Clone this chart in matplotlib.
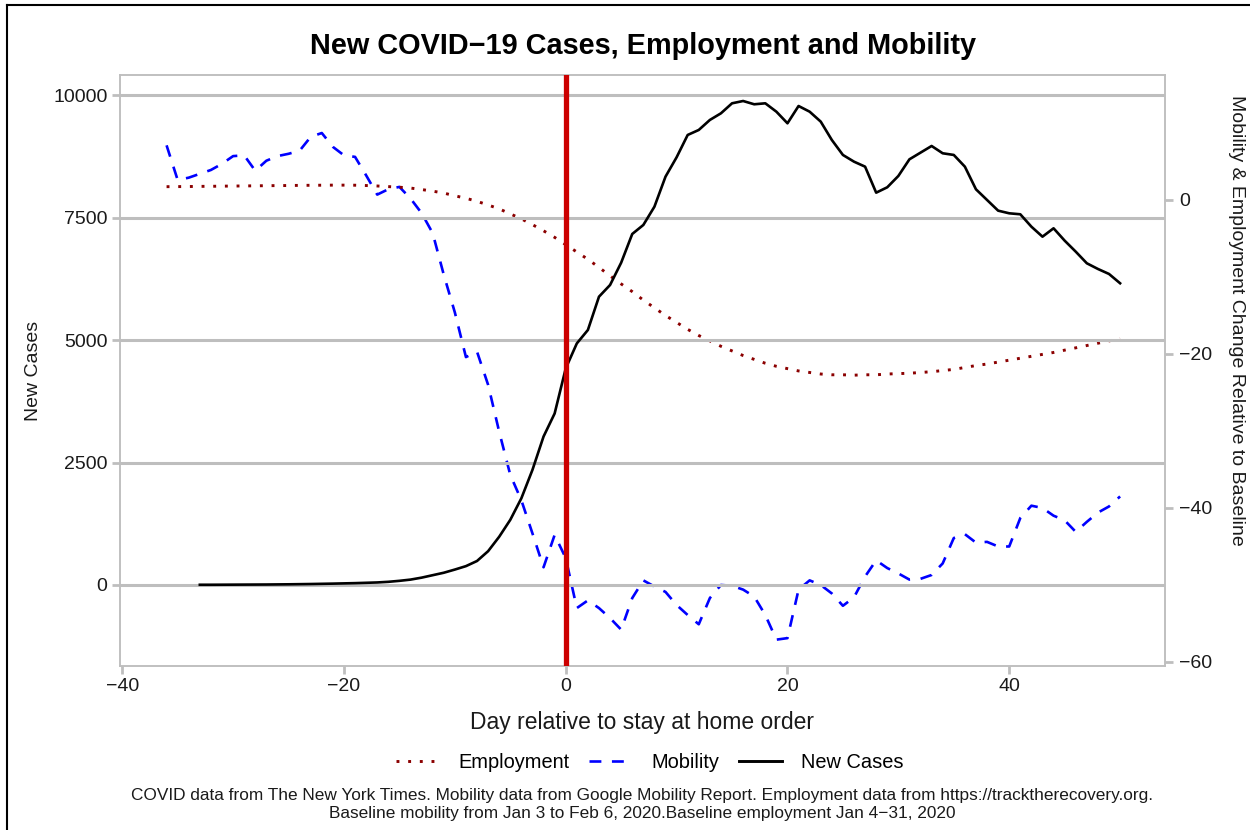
import matplotlib
matplotlib.use('Agg')
import matplotlib.pyplot as plt
from matplotlib.lines import Line2D

plt.rcParams['font.family'] = ['Liberation Sans', 'DejaVu Sans']

# days relative to the stay at home order
days = list(range(-36, 51))

# mobility change vs baseline (%), day -36 .. 50
mobility = [7.1, 2.6, 2.9, 3.4, 3.9, 4.7, 5.7, 5.8, 3.8, 5.1,
            5.7, 6.0, 6.4, 8.2, 8.7, 6.9, 5.8, 5.6, 3.2, 0.7,
            1.4, 1.7, 0.2, -1.7, -4.3, -9.7, -14.6, -20.4, -19.7, -24.0,
            -30.1, -35.7, -39.0, -43.3, -47.7, -43.5, -46.5, -53.0, -52.0, -53.0,
            -54.3, -55.8, -51.7, -49.4, -50.2, -50.9, -52.6, -53.9, -55.1, -51.7,
            -50.0, -50.1, -50.6, -51.5, -53.9, -57.1, -56.9, -50.6, -49.4, -50.0,
            -51.1, -52.7, -51.6, -48.9, -46.8, -47.8, -48.5, -49.3, -49.2, -48.7,
            -47.2, -43.9, -43.4, -44.5, -44.4, -45.0, -45.0, -41.3, -39.7, -40.0,
            -41.0, -41.6, -43.1, -41.8, -40.6, -39.8, -38.5]

# employment change vs baseline (%), day -36 .. 50
employment = [1.73, 1.74, 1.75, 1.77, 1.78, 1.80, 1.81, 1.83, 1.84, 1.86,
              1.87, 1.88, 1.90, 1.91, 1.92, 1.93, 1.93, 1.92, 1.88, 1.82,
              1.74, 1.66, 1.55, 1.36, 1.15, 0.90, 0.55, 0.22, -0.17, -0.65,
              -1.15, -1.80, -2.45, -3.20, -4.00, -4.85, -5.80, -6.75, -7.70, -8.75,
              -9.85, -10.9, -11.9, -13.0, -14.0, -15.0, -15.9, -16.8, -17.6, -18.3,
              -19.0, -19.6, -20.2, -20.7, -21.2, -21.6, -21.9, -22.2, -22.4, -22.6,
              -22.7, -22.7, -22.75, -22.7, -22.7, -22.6, -22.55, -22.5, -22.4, -22.3,
              -22.15, -22.0, -21.75, -21.5, -21.3, -21.05, -20.8, -20.55, -20.3, -20.05,
              -19.8, -19.5, -19.2, -18.9, -18.6, -18.3, -18.0]

# new cases, day -33 .. 50
case_days = list(range(-33, 51))
new_cases = [5, 5, 6, 7, 8, 9, 10, 12, 14, 17,
             20, 24, 28, 33, 38, 45, 52, 65, 85, 110,
             150, 200, 250, 315, 385, 490, 690, 985, 1330, 1770,
             2350, 3030, 3500, 4420, 4930, 5205, 5884, 6123, 6578, 7164,
             7348, 7721, 8334, 8729, 9185, 9287, 9491, 9627, 9831, 9878,
             9811, 9831, 9660, 9423, 9776, 9660, 9457, 9083, 8777, 8640,
             8538, 8007, 8117, 8348, 8688, 8824, 8960, 8811, 8777, 8538,
             8076, 7858, 7640, 7586, 7566, 7313, 7109, 7280, 7028, 6803,
             6566, 6450, 6348, 6158]

case_ticks = [0, 2500, 5000, 7500, 10000]
pct_ticks = [-60, -40, -20, 0]
day_ticks = [-40, -20, 0, 20, 40]

grey = '#BEBEBE'
txt = '#1a1a1a'

fig = plt.figure(figsize=(12.5, 8.3), dpi=100)
ax = fig.add_axes([0.096, 0.1976, 0.836, 0.712])
ax2 = ax.twinx()

ax.set_xlim(-40.2, 54.05)
ax.set_ylim(-1653, 10408)
ax2.set_ylim(-60.52, 16.23)

for y in case_ticks:
    ax.axhline(y, color=grey, lw=2.2, zorder=0)

ax.axvline(0, color='#CC0000', lw=3.8, zorder=5)

ln_cases, = ax.plot(case_days, new_cases, color='black', lw=1.9, zorder=4,
                    solid_joinstyle='round')
ln_mob, = ax2.plot(days, mobility, color='#0000FF', lw=1.9,
                   linestyle=(0, (4.5, 4)), dash_capstyle='butt', zorder=4)
ln_emp, = ax2.plot(days, employment, color='#8B0000', lw=2.1,
                   linestyle=(0, (1, 3)), dash_capstyle='butt', zorder=4)
ax.set_zorder(ax2.get_zorder() + 1)
ax.patch.set_visible(False)

for a in (ax, ax2):
    for s in a.spines.values():
        s.set_color(grey)
        s.set_linewidth(1.1)

ax.set_xticks(day_ticks)
ax.set_xticklabels(['\u221240', '\u221220', '0', '20', '40'])
ax.set_yticks(case_ticks)
ax.set_yticklabels([str(v) for v in case_ticks])
ax2.set_yticks(pct_ticks)
ax2.set_yticklabels(['\u221260', '\u221240', '\u221220', '0'])

ax.tick_params(axis='both', colors=grey, labelcolor=txt, labelsize=14,
               length=6, width=2, pad=3)
ax2.tick_params(axis='y', colors=grey, labelcolor=txt, labelsize=14,
                length=6, width=2, pad=4)

ax.set_xlabel('Day relative to stay at home order', fontsize=16.5, color=txt,
              va='center')
ax.xaxis.set_label_coords(0.5, -0.095)
ax.set_ylabel('New Cases', fontsize=14, color=txt, va='center')
ax.yaxis.set_label_coords(-0.083, 0.5)
ax2.set_ylabel('Mobility & Employment Change Relative to Baseline',
               fontsize=14, color=txt, rotation=270, va='center')
ax2.yaxis.set_label_coords(1.068, 0.585)

fig.text(0.514, 1 - 46 / 830, 'New COVID\u221219 Cases, Employment and Mobility',
         fontsize=20.8, fontweight='bold', ha='center', va='center')

handles = [Line2D([], [], color='#8B0000', lw=2.1, linestyle=(0, (1, 3))),
           Line2D([], [], color='#0000FF', lw=1.9, linestyle=(0, (4.5, 4))),
           Line2D([], [], color='black', lw=2.1)]
fig.legend(handles, ['Employment', 'Mobility', 'New Cases'], ncol=3,
           loc='center', bbox_to_anchor=(0.52, 1 - 762 / 830), frameon=False,
           fontsize=14.4, handlelength=2.15, handletextpad=0.95,
           columnspacing=1.0)

fig.text(0.5136, 1 - 804.5 / 830,
         'COVID data from The New York Times. Mobility data from Google Mobility Report. '
         'Employment data from https://tracktherecovery.org.\n'
         'Baseline mobility from Jan 3 to Feb 6, 2020.Baseline employment Jan 4\u221231, 2020',
         fontsize=12.45, ha='center', va='center', linespacing=1.2, color=txt)

# frame edges visible in the original screenshot
fig.add_artist(Line2D([7 / 1250, 7 / 1250], [0, 1 - 5 / 830], color='black', lw=1.5))
fig.add_artist(Line2D([7 / 1250, 1], [1 - 5 / 830, 1 - 5 / 830], color='black', lw=1.5))

fig.savefig('out.png', dpi=100)
